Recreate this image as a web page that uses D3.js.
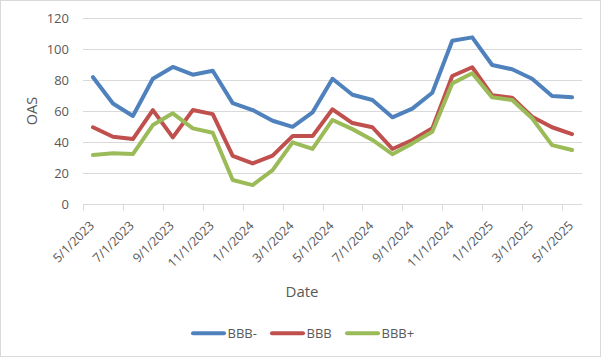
<!DOCTYPE html>
<html><head><meta charset="utf-8">
<script src="https://cdn.jsdelivr.net/npm/d3@7"></script>
<style>
html,body{margin:0;padding:0;background:#fff;}
svg{display:block;font-family:"Open Sans","Liberation Sans",sans-serif;}
</style></head>
<body><svg id="c" width="601" height="357"></svg>
<script>
const dates = ["5/1/2023","6/1/2023","7/1/2023","8/1/2023","9/1/2023","10/1/2023","11/1/2023","12/1/2023",
  "1/1/2024","2/1/2024","3/1/2024","4/1/2024","5/1/2024","6/1/2024","7/1/2024","8/1/2024","9/1/2024",
  "10/1/2024","11/1/2024","12/1/2024","1/1/2025","2/1/2025","3/1/2025","4/1/2025","5/1/2025"];
const bbbMinus = [82,65,57,81,88.6,83.6,86.2,65.3,60.8,53.9,50,59.3,81,70.7,67.3,56.1,61.7,72,105.5,107.7,89.9,87.1,81,69.9,69];
const bbb      = [49.7,43.6,42.1,60.8,43.2,60.8,58.2,31.2,26.4,31.4,44,44,61.3,52.4,49.7,35.7,41.5,49,82.8,88.4,70.3,68.8,56.5,49.7,45.3];
const bbbPlus  = [31.8,32.9,32.4,51.1,58.7,49,46.2,15.7,12.4,22.1,40,35.7,54.4,48.5,41.5,32.3,39.3,46.8,78,84.5,69,67.3,55.5,38.2,35];
const yTicks = [0,20,40,60,80,100,120];
const seriesNames = ["BBB-","BBB","BBB+"];
const colors = ["#4F81BD","#C0504D","#9BBB59"];
const seriesData = [bbbMinus,bbb,bbbPlus];

const svg = d3.select("#c");
svg.append("rect").attr("x",0.5).attr("y",0.5).attr("width",600).attr("height",356)
  .attr("fill","#fff").attr("stroke","#d9d9d9");

const pLeft=83, pRight=582, pTop=18.3, pBottom=204.3;
const x = d3.scaleBand().domain(dates).range([pLeft,pRight]).paddingInner(0).paddingOuter(0);
const y = d3.scaleLinear().domain([0,120]).range([pBottom,pTop]);

// gridlines
svg.append("g").selectAll("line").data(yTicks.filter(d=>d>0)).join("line")
  .attr("x1",pLeft).attr("x2",pRight).attr("y1",d=>Math.round(y(d))+0.5).attr("y2",d=>Math.round(y(d))+0.5)
  .attr("stroke","#d9d9d9").attr("stroke-width",1);

// y axis labels
const yAxis = d3.axisLeft(y).tickValues(yTicks).tickSize(0).tickPadding(0);
const gy = svg.append("g").attr("transform",`translate(69,0)`).call(yAxis);
gy.select(".domain").remove();
gy.selectAll("text").attr("font-size",13).attr("fill","#595959").attr("font-family","Open Sans");

// x axis line and tick marks
const bottomY = Math.round(pBottom)+0.5;
svg.append("line").attr("x1",pLeft).attr("x2",pRight).attr("y1",bottomY).attr("y2",bottomY)
  .attr("stroke","#d9d9d9");
const tickDates = dates.filter((d,i)=>i%2===0);
svg.append("g").selectAll("line").data(tickDates).join("line")
  .attr("x1",d=>Math.round(x(d))+0.5).attr("x2",d=>Math.round(x(d))+0.5)
  .attr("y1",bottomY).attr("y2",bottomY+6).attr("stroke","#d9d9d9");

// x labels
const xAxis = d3.axisBottom(x).tickValues(tickDates).tickSize(0).tickPadding(0);
const gx = svg.append("g").attr("transform",`translate(0,226.5)`).call(xAxis);
gx.select(".domain").remove();
gx.selectAll("text").attr("font-size",12.5).attr("fill","#595959").attr("font-family","Open Sans")
  .attr("text-anchor","end").attr("dy","0").attr("y",0).attr("x",0)
  .attr("transform","translate(2,0) rotate(-45)");

// lines
const line = d3.line().x((d,i)=>x(dates[i])+x.bandwidth()/2).y(d=>y(d));
seriesData.forEach((s,k)=>{
  svg.append("path").datum(s).attr("d",line).attr("fill","none")
    .attr("stroke",colors[k]).attr("stroke-width",4).attr("stroke-linejoin","round").attr("stroke-linecap","round");
});

// axis titles
svg.append("text").attr("transform","translate(37,111) rotate(-90)").attr("text-anchor","middle")
  .attr("font-size",14.5).attr("fill","#595959").text("OAS");
svg.append("text").attr("x",302).attr("y",297).attr("text-anchor","middle")
  .attr("font-size",15).attr("fill","#595959").text("Date");

// legend
const legX = [191,270,345];
seriesNames.forEach((n,k)=>{
  svg.append("line").attr("x1",legX[k]+2).attr("x2",legX[k]+33).attr("y1",333.3).attr("y2",333.3)
    .attr("stroke",colors[k]).attr("stroke-width",4).attr("stroke-linecap","round");
  svg.append("text").attr("x",legX[k]+36.5).attr("y",337.5).attr("font-size",13).attr("fill","#595959").text(n);
});
</script></body></html>
